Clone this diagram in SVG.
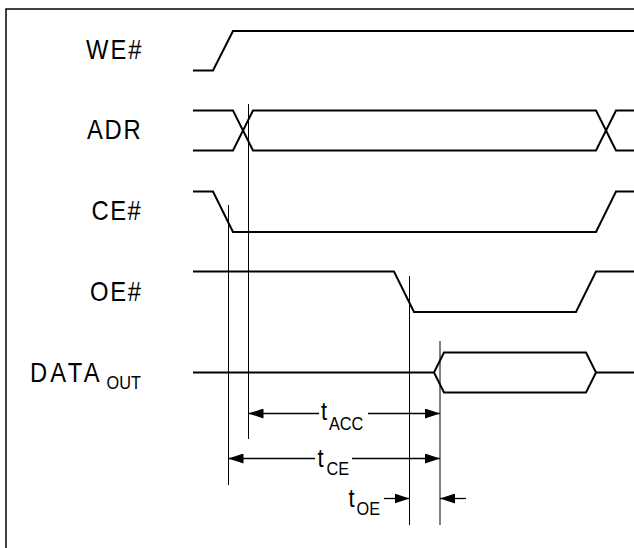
<svg xmlns="http://www.w3.org/2000/svg" width="634" height="548" viewBox="0 0 634 548">
<defs>
<style>
.frame{fill:none;stroke:#000;stroke-width:1.5}
.sig{fill:none;stroke:#000;stroke-width:2;stroke-linejoin:miter}
.ref{fill:none;stroke:#000;stroke-width:1}
.dim{fill:none;stroke:#000;stroke-width:1.3}
.lbl{font-family:"Liberation Sans",Arial,sans-serif;font-size:27px;fill:#000}
.sub{font-family:"Liberation Sans",Arial,sans-serif;font-size:18.5px;fill:#000}
.t{font-family:"Liberation Sans",Arial,sans-serif;font-size:25px;fill:#000}
</style>
<marker id="ah" viewBox="0 0 15 10" refX="15" refY="5" markerWidth="15" markerHeight="10" markerUnits="userSpaceOnUse" orient="auto-start-reverse">
<path d="M0,0 L15,5 L0,10 Z" fill="#000"/>
</marker>
</defs>
<rect width="634" height="548" fill="#fff"/>
<rect class="frame" x="6" y="9" width="650" height="560"/>

<g id="WE">
<text class="lbl" transform="translate(86,59) scale(0.88,1)" textLength="63" lengthAdjust="spacing">WE#</text>
<polyline class="sig" points="193,70.5 213,70.5 233,31 634,31"/>
</g>
<g id="ADR">
<text class="lbl" transform="translate(87,139) scale(0.88,1)" textLength="61" lengthAdjust="spacing">ADR</text>
<polyline class="sig" points="193,110.5 233,110.5 253,150.5 596,150.5 616,110.5 634,110.5"/>
<polyline class="sig" points="193,150.5 233,150.5 253,110.5 596,110.5 616,150.5 634,150.5"/>
</g>
<g id="CE">
<text class="lbl" transform="translate(91.5,220) scale(0.88,1)" textLength="56" lengthAdjust="spacing">CE#</text>
<polyline class="sig" points="193,191.5 213,191.5 233,232 596,232 616,191.5 634,191.5"/>
</g>
<g id="OE">
<text class="lbl" transform="translate(90,300.5) scale(0.88,1)" textLength="58" lengthAdjust="spacing">OE#</text>
<polyline class="sig" points="193,271.5 394,271.5 414,312 576,312 596,271.5 634,271.5"/>
</g>
<g id="DATA">
<text class="lbl" transform="translate(30,381.5) scale(0.88,1)" textLength="79" lengthAdjust="spacing">DATA</text>
<text class="sub" transform="translate(106.5,389) scale(0.88,1)">OUT</text>
<polyline class="sig" points="193,372.5 434,372.5"/>
<polygon class="sig" points="434,372.5 444,352.5 586,352.5 596,372.5 586,392.5 444,392.5"/>
<polyline class="sig" points="596,372.5 634,372.5"/>
</g>

<g id="connectors">
<line class="ref" x1="228.5" y1="205" x2="228.5" y2="485"/>
<line class="ref" x1="248.5" y1="104" x2="248.5" y2="439"/>
<line class="ref" x1="409.5" y1="276" x2="409.5" y2="525"/>
<line class="ref" x1="440" y1="341" x2="440" y2="525"/>
<line class="dim" x1="248.5" y1="413.5" x2="319" y2="413.5" marker-start="url(#ah)"/>
<line class="dim" x1="368" y1="413.5" x2="440" y2="413.5" marker-end="url(#ah)"/>
<line class="dim" x1="228.5" y1="458.5" x2="315" y2="458.5" marker-start="url(#ah)"/>
<line class="dim" x1="352" y1="458.5" x2="440" y2="458.5" marker-end="url(#ah)"/>
<line class="dim" x1="384" y1="498.5" x2="409.5" y2="498.5" marker-end="url(#ah)"/>
<line class="dim" x1="466" y1="498.5" x2="440" y2="498.5" marker-end="url(#ah)"/>
</g>

<g id="labels">
<text class="t" transform="translate(321,420) scale(0.88,1)">t</text>
<text class="sub" transform="translate(329,430) scale(0.88,1)">ACC</text>
<text class="t" transform="translate(317.5,467) scale(0.88,1)">t</text>
<text class="sub" transform="translate(326.5,475) scale(0.88,1)">CE</text>
<text class="t" transform="translate(348.5,506.5) scale(0.88,1)">t</text>
<text class="sub" transform="translate(356.5,515) scale(0.88,1)">OE</text>
</g>
</svg>
